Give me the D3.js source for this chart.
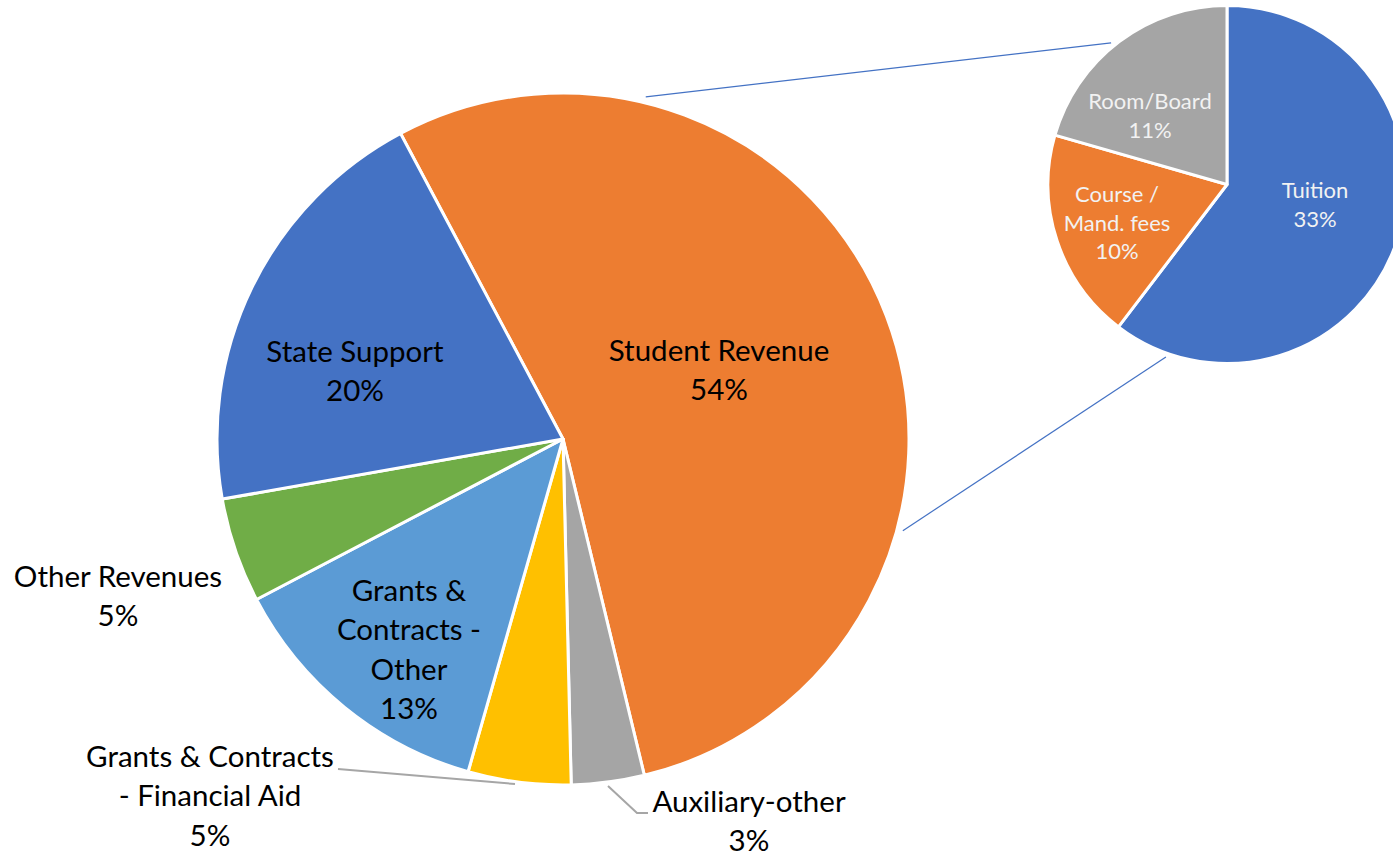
<!DOCTYPE html>
<html>
<head>
<meta charset="utf-8">
<script src="https://cdn.jsdelivr.net/npm/d3@7"></script>
<style>
  body { margin: 0; background: #fff; }
  svg { display: block; font-family: Lato, "Open Sans", sans-serif; }
</style>
</head>
<body>
<script>
// main pie: revenue sources (percent of total)
var mainCategories = ["Student Revenue", "Auxiliary-other", "Grants & Contracts - Financial Aid",
                      "Grants & Contracts - Other", "Other Revenues", "State Support"];
var mainValues = [54.0, 3.4, 4.8, 12.9, 4.9, 20.0];
var mainColors = ["#ED7D31", "#A5A5A5", "#FFC000", "#5B9BD5", "#70AD47", "#4472C4"];

// breakdown of student revenue
var subCategories = ["Tuition", "Course / Mand. fees", "Room/Board"];
var subValues = [32.6, 10.3, 11.1];
var subColors = ["#4472C4", "#ED7D31", "#A5A5A5"];

var width = 1393,
    height = 855,
    deg = Math.PI / 180;

var main = {cx: 563, cy: 439, r: 346, start: -28},
    sub = {cx: 1227, cy: 184.5, r: 179};

// label layout: text lines, centre x, first baseline
var mainLabels = [
  {lines: ["Student Revenue"], x: 719, y: 361},
  {lines: ["Auxiliary-other"], x: 749, y: 812, leader: [[608, 786], [637, 813], [648, 813]]},
  {lines: ["Grants & Contracts", "- Financial Aid"], x: 210, y: 767, leader: [[515, 784], [338, 769]]},
  {lines: ["Grants &", "Contracts -", "Other"], x: 409, y: 601},
  {lines: ["Other Revenues"], x: 118, y: 587},
  {lines: ["State Support"], x: 355, y: 362}
];
var subLabels = [
  {lines: ["Tuition"], x: 1315, y: 198},
  {lines: ["Course /", "Mand. fees"], x: 1117, y: 202},
  {lines: ["Room/Board"], x: 1150, y: 109}
];

var svg = d3.select("body")
  .append("svg")
    .attr("width", width)
    .attr("height", height);

function polar(c, r, a) {
  return [c.cx + r * Math.sin(a * deg), c.cy - r * Math.cos(a * deg)];
}

// connector lines between the two pies
var connectors = [
  [polar(main, main.r + 6, 13.6), polar(sub, sub.r + 4, 320.7)],
  [polar(main, main.r + 6, 105.1), polar(sub, sub.r + 4, 199.5)]
];
svg.selectAll(".connector")
  .data(connectors)
  .enter()
  .append("line")
    .attr("class", "connector")
    .attr("x1", function(d){return d[0][0]})
    .attr("y1", function(d){return d[0][1]})
    .attr("x2", function(d){return d[1][0]})
    .attr("y2", function(d){return d[1][1]})
    .attr("stroke", "#4472C4")
    .attr("stroke-width", 1.2);

var mainPie = d3.pie()
  .sort(null)
  .startAngle(main.start * deg)
  .endAngle((main.start + 360) * deg);

var mainArc = d3.arc().innerRadius(0).outerRadius(main.r);

svg.append("g")
    .attr("transform", "translate(" + main.cx + "," + main.cy + ")")
  .selectAll("path")
  .data(mainPie(mainValues))
  .enter()
  .append("path")
    .attr("d", mainArc)
    .attr("fill", function(d, i){return mainColors[i]})
    .attr("stroke", "#fff")
    .attr("stroke-width", 3)
    .attr("stroke-linejoin", "round");

var subPie = d3.pie().sort(null);
var subArc = d3.arc().innerRadius(0).outerRadius(sub.r);

svg.append("g")
    .attr("transform", "translate(" + sub.cx + "," + sub.cy + ")")
  .selectAll("path")
  .data(subPie(subValues))
  .enter()
  .append("path")
    .attr("d", subArc)
    .attr("fill", function(d, i){return subColors[i]})
    .attr("stroke", "#fff")
    .attr("stroke-width", 3)
    .attr("stroke-linejoin", "round");

// leader lines for outside labels
svg.selectAll(".leader")
  .data(mainLabels.filter(function(d){return d.leader}))
  .enter()
  .append("polyline")
    .attr("class", "leader")
    .attr("points", function(d){return d.leader.map(function(p){return p.join(",")}).join(" ")})
    .attr("fill", "none")
    .attr("stroke", "#A6A6A6")
    .attr("stroke-width", 2);

function drawLabels(labels, values, size, lh, color) {
  var g = svg.append("g")
    .attr("font-size", size)
    .attr("fill", color)
    .attr("text-anchor", "middle");
  labels.forEach(function(l, i) {
    var lines = l.lines.concat([Math.round(values[i]) + "%"]);
    var t = g.append("text").attr("x", l.x).attr("y", l.y);
    lines.forEach(function(s, j) {
      t.append("tspan")
        .attr("x", l.x)
        .attr("y", l.y + j * lh)
        .text(s);
    });
  });
}

drawLabels(mainLabels, mainValues, 29.5, 39.3, "#000");
drawLabels(subLabels, subValues, 22, 28.7, "#F2F2F2");
</script>
</body>
</html>
